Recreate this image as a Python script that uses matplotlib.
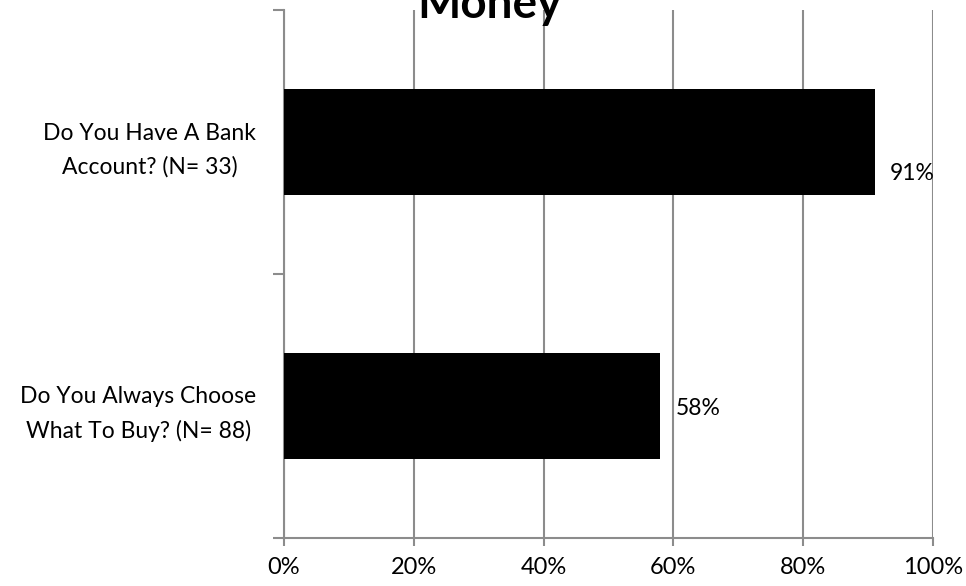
import matplotlib
matplotlib.use("Agg")
import matplotlib.pyplot as plt
from matplotlib.ticker import FixedLocator, PercentFormatter

categories = ["Do You Always Choose\nWhat To Buy? (N= 88)",
              "Do You Have A Bank\nAccount? (N= 33)"]
values = [58, 91]
value_labels = ["58%", "91%"]
xticks = [0, 20, 40, 60, 80, 100]
title = "Money"

plt.rcParams['font.family'] = ['Lato', 'DejaVu Sans']

fig = plt.figure(figsize=(9.66, 5.86), dpi=100)
ax = fig.add_axes([284/966, (586-538)/586, (933-284)/966, (538-10)/586])

grid_c = "#8c8c8c"
ypos = list(range(len(categories)))
ax.barh(ypos, values, height=0.4, color="black", zorder=3)

ax.set_xlim(0, 100)
ax.set_ylim(-0.5, len(categories) - 0.5)
ax.set_xticks(xticks)
ax.xaxis.set_major_formatter(PercentFormatter(decimals=0))
ax.xaxis.grid(True, color=grid_c, linewidth=1.5, zorder=0)
ax.tick_params(axis='x', length=6, width=1.5, color=grid_c, labelsize=17, pad=8)

ax.yaxis.set_major_locator(FixedLocator([i - 0.5 for i in range(len(categories) + 1)]))
ax.yaxis.set_major_formatter(plt.NullFormatter())
ax.yaxis.set_minor_locator(FixedLocator(ypos))
ax.set_yticklabels(categories, minor=True)
ax.tick_params(axis='y', which='major', length=8, width=1.5, color=grid_c)
ax.tick_params(axis='y', which='minor', length=0, labelsize=16.5, pad=20)
for lab in ax.get_yticklabels(minor=True):
    lab.set_multialignment('center')
    lab.set_linespacing(1.7)

for s in ['top', 'right']:
    ax.spines[s].set_visible(False)
for s in ['left', 'bottom']:
    ax.spines[s].set_color(grid_c)
    ax.spines[s].set_linewidth(1.5)

offsets = [(11, -2), (11, -23)]
for v, y, lab, off in zip(values, ypos, value_labels, offsets):
    ax.annotate(lab, xy=(v, y), xytext=off, textcoords='offset points',
                ha='left', va='center', fontsize=16.5, zorder=4)

fig.text(489/966, 1 - 18/586, title, ha='center', va='baseline',
         fontsize=33, fontweight='bold')

fig.savefig("out.png", dpi=100)
